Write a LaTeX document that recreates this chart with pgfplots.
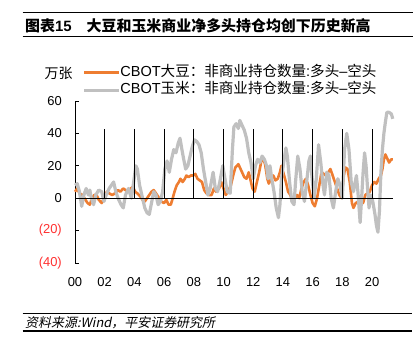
\documentclass[border=0pt]{standalone}
\usepackage{pgfplots}
\usepackage{pgfplotstable}
\pgfplotsset{compat=1.18}
\usepackage{fontspec}
\setmainfont{Liberation Sans}
\newfontfamily\cjk{Noto Sans CJK SC}
\newfontfamily\cjkit[FakeSlant=0.2]{Noto Sans CJK SC}
\newcommand{\zh}[1]{{\cjk #1}}
\definecolor{soyorange}{RGB}{238,125,49}
\definecolor{corngray}{RGB}{192,192,192}
\definecolor{negred}{RGB}{255,48,48}

\pgfplotstableread{
x y
2000.0 4
2000.15 6
2000.3 3
2000.5 2
2000.7 -1
2000.85 -3
2001.0 -4
2001.15 0
2001.3 2
2001.45 2
2001.6 -1
2001.8 -3
2001.95 0
2002.15 4
2002.3 3
2002.5 2
2002.7 3
2002.9 5
2003.05 4
2003.25 6
2003.4 5
2003.6 4
2003.75 6
2003.9 7
2004.05 4
2004.2 3
2004.4 1
2004.55 -1
2004.7 -2
2004.85 0
2005.0 2
2005.15 4
2005.3 5
2005.45 3
2005.6 1
2005.8 -2
2006.0 -3
2006.15 -1
2006.3 -4
2006.45 -4
2006.55 -1
2006.7 4
2006.85 8
2007.0 10
2007.1 12
2007.25 10
2007.4 12
2007.5 14
2007.65 13
2007.8 14
2007.95 14
2008.1 15
2008.25 12
2008.4 11
2008.55 10
2008.7 5
2008.85 3
2009.0 2
2009.2 2
2009.35 6
2009.5 4
2009.7 6
2009.85 10
2010.0 6
2010.15 2
2010.3 4
2010.5 8
2010.65 14
2010.8 19
2011.0 21
2011.1 19
2011.25 16
2011.4 13
2011.55 12
2011.7 16
2011.85 10
2011.95 6
2012.1 4
2012.25 10
2012.4 16
2012.55 23
2012.65 25
2012.8 21
2012.95 12
2013.05 9
2013.2 12
2013.35 14
2013.5 11
2013.65 12
2013.8 16
2013.9 20
2014.05 15
2014.2 10
2014.35 4
2014.5 2
2014.65 -2
2014.8 0
2014.95 2
2015.1 0
2015.25 6
2015.4 10
2015.55 12
2015.7 8
2015.85 2
2016.0 -3
2016.15 -5
2016.3 0
2016.45 8
2016.6 16
2016.75 15
2016.9 14
2017.05 16
2017.2 18
2017.35 14
2017.5 10
2017.65 6
2017.8 2
2017.95 0
2018.1 14
2018.2 19
2018.35 18
2018.5 10
2018.65 -3
2018.75 -6
2018.9 -3
2019.1 -2
2019.25 0
2019.4 -3
2019.55 2
2019.7 3
2019.85 4
2020.0 8
2020.15 10
2020.3 9
2020.45 12
2020.6 14
2020.7 18
2020.8 24
2020.9 27
2021.0 25
2021.15 22
2021.3 24
2021.4 24
}\soy

\pgfplotstableread{
x y
2000.0 8
2000.15 9
2000.3 4
2000.45 -5
2000.6 2
2000.75 6
2000.9 2
2001.0 5
2001.1 0
2001.25 -4
2001.4 2
2001.6 5
2001.8 4
2001.95 -2
2002.1 2
2002.3 6
2002.45 8
2002.6 10
2002.75 4
2002.9 0
2003.1 -4
2003.25 -6
2003.4 2
2003.6 6
2003.8 0
2003.95 10
2004.1 20
2004.2 18
2004.35 8
2004.5 2
2004.7 -6
2004.85 -9
2005.0 -10
2005.15 -3
2005.3 4
2005.45 2
2005.6 -4
2005.75 -2
2005.9 4
2006.05 18
2006.2 23
2006.35 16
2006.5 24
2006.65 30
2006.8 28
2006.95 34
2007.07 37
2007.2 30
2007.3 25
2007.45 18
2007.6 20
2007.75 26
2007.9 32
2008.05 36
2008.2 35
2008.35 33
2008.5 28
2008.65 18
2008.8 10
2008.95 2
2009.1 6
2009.3 16
2009.45 6
2009.6 4
2009.75 10
2009.95 20
2010.1 12
2010.25 4
2010.45 3
2010.6 30
2010.7 44
2010.85 46
2011.0 43
2011.1 48
2011.25 45
2011.4 42
2011.55 37
2011.7 28
2011.85 22
2012.0 12
2012.15 20
2012.3 24
2012.45 22
2012.6 26
2012.75 24
2012.9 20
2013.0 12
2013.13 20
2013.25 12
2013.4 4
2013.55 -6
2013.7 -12
2013.8 -4
2013.9 12
2014.05 22
2014.2 31
2014.3 26
2014.45 10
2014.6 -2
2014.75 -4
2014.85 10
2015.0 26
2015.15 18
2015.3 4
2015.45 -2
2015.6 10
2015.75 23
2015.85 26
2015.95 14
2016.1 0
2016.25 12
2016.4 33
2016.55 22
2016.7 8
2016.8 2
2016.95 16
2017.1 14
2017.25 0
2017.4 -6
2017.55 4
2017.7 12
2017.85 8
2018.0 0
2018.15 30
2018.3 40
2018.45 30
2018.6 10
2018.75 4
2018.95 14
2019.05 4
2019.2 -15
2019.3 0
2019.4 16
2019.5 28
2019.6 20
2019.7 6
2019.8 -6
2019.9 2
2020.05 -2
2020.2 -10
2020.3 -17
2020.4 -21
2020.5 -8
2020.6 16
2020.7 30
2020.8 40
2020.9 47
2021.0 53
2021.15 53
2021.3 52
2021.4 49
}\corn

\begin{document}
\begin{tikzpicture}
\useasboundingbox (0,0) rectangle (414bp,357bp);
% title block
\draw[line width=1.2bp] (22.5bp,344.3bp) -- (413bp,344.3bp);
\node[anchor=west, inner sep=0pt] at (25bp,331.5bp) {\fontsize{15}{17}\selectfont\cjk\bfseries 图表{\fontspec{Liberation Sans}\bfseries 15}\hspace{15bp}大豆和玉米商业净多头持仓均创下历史新高};
\draw[line width=1.3bp] (22.5bp,320.5bp) -- (413bp,320.5bp);
% unit
\node[inner sep=0pt] at (58.5bp,284bp) {\fontsize{14}{16}\selectfont\cjk 万张};
\begin{axis}[
  at={(75bp,94bp)}, anchor=south west, scale only axis,
  width=317.8bp, height=162bp,
  xmin=0, xmax=21.4, ymin=-40, ymax=60,
  axis y line*=left, axis x line*=bottom,
  x axis line style={draw=none},
  y axis line style={black, line width=0.9bp},
  xtick={0,2,4,6,8,10,12,14,16,18,20},
  xticklabels={00,02,04,06,08,10,12,14,16,18,20},
  xtick style={draw=none},
  ytick={-40,-20,0,20,40,60},
  yticklabels={\textcolor{negred}{(40)},\textcolor{negred}{(20)},0,20,40,60},
  ytick style={black, line width=0.9bp},
  tick align=inside, major tick length=4bp,
  ticklabel style={font=\fontsize{13}{15}\selectfont, inner sep=0pt},
  xticklabel style={anchor=north, yshift=-14bp, text height=9.5bp},
  yticklabel style={anchor=east, xshift=-13bp},
  legend style={at={(0.024,1.215)}, anchor=north west, draw=none, fill=none,
    inner sep=0pt, outer sep=0pt, row sep=4.5bp,
    font=\fontsize{14.6}{16}\selectfont,
    nodes={inner sep=0pt, anchor=west, text height=10bp, text depth=3bp}},
  legend cell align=left,
  legend image code/.code={\draw[#1] (0bp,0bp) -- (34.5bp,0bp);},
  clip=false,
]
\addplot[soyorange, line width=2.6bp, line join=round] table[x expr=\thisrow{x}-2000,y=y]{\soy};
\addlegendentry{CBOT\zh{大豆：非商业持仓数量}:\zh{多头}–\zh{空头}}
\addplot[corngray, line width=3.2bp, line join=round] table[x expr=\thisrow{x}-2000,y=y]{\corn};
\addlegendentry{CBOT\zh{玉米：非商业持仓数量}:\zh{多头}–\zh{空头}}
\draw[black, line width=0.9bp] (axis cs:0,0) -- (axis cs:21.4,0);
\draw[black, line width=0.9bp] (axis cs:2,0) -- ++(0,4bp);
\draw[black, line width=0.9bp] (axis cs:4,0) -- ++(0,4bp);
\draw[black, line width=0.9bp] (axis cs:6,0) -- ++(0,4bp);
\draw[black, line width=0.9bp] (axis cs:8,0) -- ++(0,4bp);
\draw[black, line width=0.9bp] (axis cs:10,0) -- ++(0,4bp);
\draw[black, line width=0.9bp] (axis cs:12,0) -- ++(0,4bp);
\draw[black, line width=0.9bp] (axis cs:14,0) -- ++(0,4bp);
\draw[black, line width=0.9bp] (axis cs:16,0) -- ++(0,4bp);
\draw[black, line width=0.9bp] (axis cs:18,0) -- ++(0,4bp);
\draw[black, line width=0.9bp] (axis cs:20,0) -- ++(0,4bp);
\end{axis}
% source
\draw[line width=1.2bp] (22.5bp,43.7bp) -- (412bp,43.7bp);
\node[anchor=west, inner sep=0pt] at (25bp,34.5bp) {\fontsize{13}{15}\selectfont\cjkit 资料来源{\itshape :Wind}，平安证券研究所};
\draw[line width=1.2bp] (22.5bp,26bp) -- (412bp,26bp);
\end{tikzpicture}
\end{document}
